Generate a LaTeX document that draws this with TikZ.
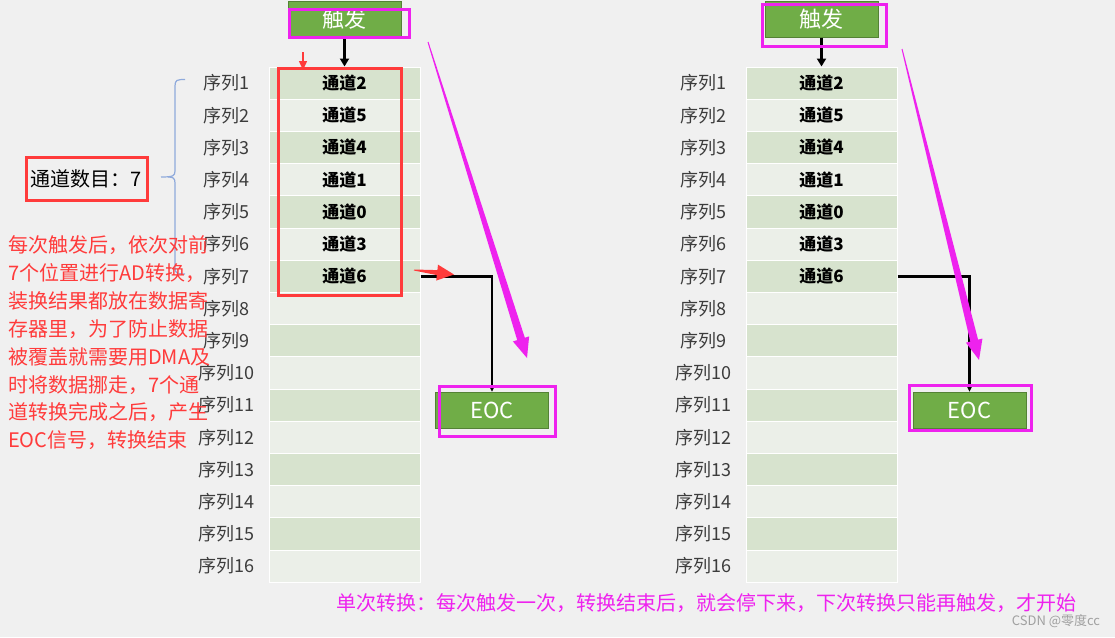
\documentclass[tikz,border=0pt]{standalone}
\usepackage{fontspec}
\setmainfont{Noto Sans CJK SC}
\usepackage{xcolor}
\usetikzlibrary{arrows.meta,positioning,calc}

\definecolor{bggray}{HTML}{F0F0F0}
\definecolor{celldark}{HTML}{D7E3CE}
\definecolor{celllight}{HTML}{EBEFE8}
\definecolor{boxgreen}{HTML}{70AD47}
\definecolor{boxedge}{HTML}{548235}
\definecolor{hotpink}{HTML}{EE22EE}
\definecolor{alertred}{HTML}{FF3B3B}
\definecolor{bracecol}{HTML}{8FAADC}
\definecolor{labelgray}{HTML}{3C3C3C}
\definecolor{wmgray}{HTML}{A0A0A0}

\newcommand{\taperarrow}[6]{%
  \path ($(#3)!#4!(#2)$) coordinate (tb);
  \fill[#1] ($(#2)!0.5pt!90:(#3)$) -- ($(tb)!#5!90:(#3)$) -- ($(tb)!#6!90:(#3)$) -- (#3)
    -- ($(tb)!#6!-90:(#3)$) -- ($(tb)!#5!-90:(#3)$) -- ($(#2)!0.5pt!-90:(#3)$) -- cycle;
}

\begin{document}
\begin{tikzpicture}[x=1pt,y=-1pt,
  cell/.style={draw=white,line width=1pt,minimum width=151pt,minimum height=32.2pt,inner sep=0pt},
  rowlabel/.style={text=labelgray,inner sep=0pt,font=\fontsize{18}{18}\selectfont},
  chan/.style={inner sep=0pt,font=\fontsize{17}{17}\selectfont\bfseries},
  greenbox/.style={fill=boxgreen,draw=boxedge,line width=0.8pt,text=white,minimum width=113pt,minimum height=36pt,inner sep=0pt,font=\fontsize{22}{22}\selectfont},
  hilite/.style={draw=hotpink,line width=3pt},
  redbox/.style={draw=alertred,line width=3pt},
  flow/.style={draw=black,line width=2.5pt,-{Triangle[length=8pt,width=9pt]}},
  link/.style={draw=black,line width=2.5pt,-{Stealth[length=5pt,width=5pt]}},
  note/.style={text=alertred,inner sep=0pt,anchor=base west,font=\fontsize{20}{20}\selectfont}]
  \useasboundingbox (0,0) rectangle (1115,637);
  \fill[bggray] (0,0) rectangle (1115,637);

  \foreach \s/\x in {L/344.5,R/821.5} {
    \foreach \i in {1,...,16} {
      \ifodd\i \def\rowcol{celldark}\else\def\rowcol{celllight}\fi
      \node[cell,fill=\rowcol] (\s\i) at (\x,{67+32.2*(\i-0.5)}) {};
      \node[rowlabel] (l\s\i) at ([xshift=-42pt]\s\i.west) {序列\i};
    }
    \foreach \i/\c in {1/2,2/5,3/4,4/1,5/0,6/3,7/6}
      \node[chan] (c\s\i) at (\s\i) {通道\c};
    \node[greenbox,above=29pt of \s1] (t\s) {触发};
    \draw[flow] (t\s) -- (\s1);
  }

  \node[greenbox] (eL) at (492,410) {EOC};
  \node[greenbox] (eR) at (969.5,410) {EOC};
  \draw[link] (L7.east) -| (eL.north);
  \draw[link] (R7.east) -| (eR.north);

  \draw[hilite] (289,9) rectangle (409,37);
  \draw[hilite] (762,4) rectangle (886,46);
  \draw[hilite] (439,386) rectangle (555,436);
  \draw[hilite] (909,385) rectangle (1031,430);
  \draw[redbox] (278,68) rectangle (401,295);

  \coordinate (redA) at (303,52);
  \coordinate (redB) at (303,70);
  \draw[alertred,line width=1.5pt,-{Triangle[length=9pt,width=8pt]}] (redA) -- (redB);
  \coordinate (redC) at (414,270);
  \coordinate (redD) at (454,274.5);
  \taperarrow{alertred}{redC}{redD}{17pt}{2.5pt}{8pt}

  \coordinate (mL0) at (428,42);
  \coordinate (mL1) at (527,358);
  \taperarrow{hotpink}{mL0}{mL1}{20pt}{4pt}{8.5pt}
  \coordinate (mR0) at (902,49);
  \coordinate (mR1) at (979,360);
  \taperarrow{hotpink}{mR0}{mR1}{20pt}{4pt}{8.5pt}

  \node[redbox,minimum width=121pt,minimum height=43pt,inner sep=0pt,font=\fontsize{20}{20}\selectfont] (count) at (86.5,178.5) {通道数目：7};
  \draw[bracecol,line width=1.2pt] (185,79.5) .. controls (177,79.5) and (175,80) .. (175,86) -- (175,171) .. controls (175,176) and (173,177) .. (161,177);
  \draw[bracecol,line width=1.2pt] (168,177) .. controls (173,177) and (175,178) .. (175,183) -- (175,268) .. controls (175,273) and (177,274) .. (185,274);

  \foreach \ln [count=\k] in {每次触发后，依次对前,7个位置进行AD转换，,装换结果都放在数据寄,存器里，为了防止数据,被覆盖就需要用DMA及,时将数据挪走，7个通,道转换完成之后，产生,EOC信号，转换结束}
    \node[note] (n\k) at (8,{252.5+27.9*(\k-1)}) {\ln};

  \node[text=hotpink,inner sep=0pt,font=\fontsize{20}{20}\selectfont] (summary) at (706,603) {单次转换：每次触发一次，转换结束后，就会停下来，下次转换只能再触发，才开始};
  \node[text=wmgray,inner sep=0pt,font=\fontsize{13}{13}\selectfont] (wm) at (1056,621) {CSDN @零度cc};
\end{tikzpicture}
\end{document}
